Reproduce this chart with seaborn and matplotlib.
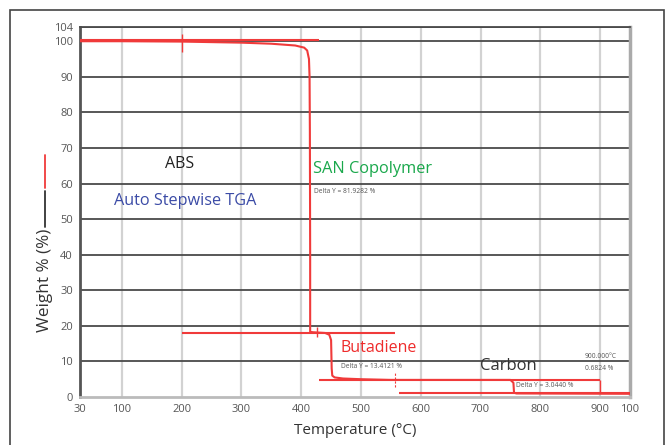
import numpy as np
import pandas as pd
import seaborn as sns
import matplotlib
matplotlib.use("Agg")
import matplotlib.pyplot as plt
from matplotlib.lines import Line2D
from matplotlib.patches import Rectangle

sns.set_style("white")
plt.rcParams["font.family"] = ["Open Sans", "DejaVu Sans"]

# TGA curve
temp = [30, 100, 200, 300, 350, 390, 405, 410, 413, 414, 414.5, 415, 415,
        420, 440, 447, 450, 451, 452, 456, 470, 500, 550, 750, 755, 756, 760, 950]
weight = [100.0, 100.0, 99.9, 99.6, 99.3, 98.8, 98.2, 97.4, 95, 90, 75, 40, 18.3,
          18.2, 18.0, 17.5, 16, 8, 6, 5.5, 5.2, 5.0, 4.8, 4.8, 4.0, 1.2, 1.0, 0.9]

# step analysis marker lines
mark_h_x0 = [30, 200, 429, 563]
mark_h_x1 = [429, 557, 900, 950]
mark_h_y = [100.3, 18.0, 4.8, 1.0]
mark_v_x = [200, 427, 900]
mark_v_y0 = [97, 17, 1.0]
mark_v_y1 = [102, 19.7, 4.8]
dash_v_x = [557]
dash_v_y0 = [2.8]
dash_v_y1 = [7.0]

x_ticks = [30, 100, 200, 300, 400, 500, 600, 700, 800, 900, 950]
x_labels = ["30", "100", "200", "300", "400", "500", "600", "700", "800", "900", "100"]
y_ticks = [0, 10, 20, 30, 40, 50, 60, 70, 80, 90, 100, 104]

df = pd.DataFrame({"Temperature": temp, "Weight": weight})

W, H = 666, 445
fig = plt.figure(figsize=(W / 100, H / 100), dpi=100)
ax = fig.add_axes([80 / W, 1 - 397 / H, 550 / W, 370 / H])

red = "#f03a3a"

# grid
for t in x_ticks[1:-1]:
    ax.axvline(t, color="#d2d2d2", lw=1.6, zorder=0)
for v in y_ticks[1:]:
    ax.axhline(v, color="#4a4a4a", lw=1.3, zorder=1)

sns.lineplot(data=df, x="Temperature", y="Weight", sort=False, estimator=None,
             color=red, lw=1.5, ax=ax, zorder=3)
ax.hlines(mark_h_y, mark_h_x0, mark_h_x1, color=red, lw=1.5, zorder=3)
ax.vlines(mark_v_x, mark_v_y0, mark_v_y1, color=red, lw=1.0, zorder=3)
ax.vlines(dash_v_x, dash_v_y0, dash_v_y1, color=red, lw=0.8, ls=(0, (2, 1.5)), zorder=3)

ax.set_xlim(30, 950)
ax.set_ylim(0, 104)
ax.set_xticks(x_ticks)
ax.set_xticklabels(x_labels)
ax.set_yticks(y_ticks)
ax.tick_params(axis="both", labelsize=8, colors="#555555", length=4, width=1,
               direction="out", pad=1)
ax.set_xlabel("Temperature (°C)", fontsize=11, color="#333333", labelpad=6)
ax.set_ylabel("")

ax.spines["left"].set_color("#555555")
ax.spines["left"].set_linewidth(2)
ax.spines["bottom"].set_color("#bbbbbb")
ax.spines["bottom"].set_linewidth(2)
ax.spines["right"].set_color("#aaaaaa")
ax.spines["right"].set_linewidth(2.5)
ax.spines["top"].set_color("#4a4a4a")
ax.spines["top"].set_linewidth(1.3)

# annotations
ax.text(197, 65.4, "ABS", fontsize=11.5, color="#222222", ha="center", va="center")
ax.text(206, 55, "Auto Stepwise TGA", fontsize=11.7, color="#3b4ba6", ha="center", va="center")
ax.text(420, 64, "SAN Copolymer", fontsize=11.8, color="#1aa84c", ha="left", va="center")
ax.text(421, 57.7, "Delta Y = 81.9282 %", fontsize=4.8, color="#555555", ha="left", va="center")
ax.text(465, 13.8, "Butadiene", fontsize=11.5, color="#ee2b2b", ha="left", va="center")
ax.text(466, 8.5, "Delta Y = 13.4121 %", fontsize=4.8, color="#555555", ha="left", va="center")
ax.text(747, 8.7, "Carbon", fontsize=12, color="#333333", ha="center", va="center")
ax.text(760, 3.1, "Delta Y = 3.0440 %", fontsize=4.8, color="#555555", ha="left", va="center")
ax.text(874, 11.3, "900.000°C", fontsize=4.8, color="#555555", ha="left", va="center")
ax.text(874, 7.9, "0.6824 %", fontsize=4.8, color="#555555", ha="left", va="center")

# y label with legend strokes
fig.text(45 / W, 1 - 280 / H, "Weight % (%)", rotation=90, fontsize=12.3,
         color="#333333", ha="center", va="center")
fig.add_artist(Line2D([45 / W, 45 / W], [1 - 227 / H, 1 - 191 / H], color="#333333", lw=1.3))
fig.add_artist(Line2D([45 / W, 45 / W], [1 - 188 / H, 1 - 155 / H], color=red, lw=1.3))

# outer frame
fig.add_artist(Rectangle((10 / W, -0.02), 654 / W, 1 - 10 / H + 0.02, fill=False,
                         ec="#444444", lw=1.2, transform=fig.transFigure))

fig.savefig("out.png", dpi=100)
